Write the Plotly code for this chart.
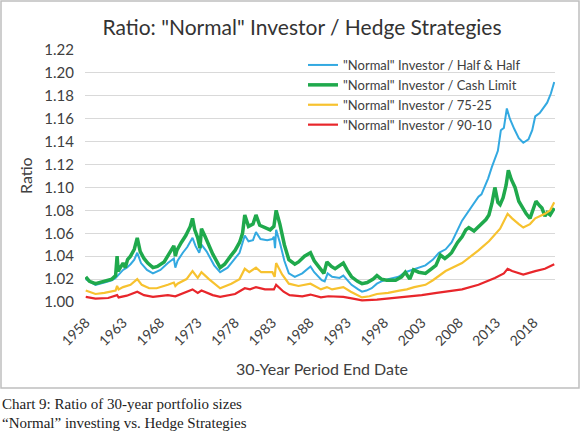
import plotly.graph_objects as go

# Ratio of 30-year portfolio sizes
half_years = [1958.0, 1959.3, 1960.5, 1961.5, 1962.0, 1962.4, 1963.0, 1963.5, 1964.0, 1964.5,
              1964.9, 1965.4, 1966.2, 1967.0, 1968.0, 1969.0, 1969.8, 1970.0, 1970.3, 1971.0,
              1971.6, 1972.3, 1972.7, 1973.2, 1973.5, 1974.2, 1975.2, 1976.0, 1977.0, 1978.0,
              1978.6, 1979.3, 1979.8, 1980.4, 1980.8, 1981.4, 1982.3, 1983.0, 1983.2, 1983.35,
              1983.5, 1984.0, 1984.6, 1985.2, 1986.0, 1987.0, 1988.1, 1988.6, 1989.6, 1990.0,
              1990.4, 1991.0, 1992.0, 1992.5, 1993.6, 1994.5, 1995.0, 1995.6, 1996.3, 1997.0,
              1997.6, 1998.5, 1999.9, 2000.8, 2001.7, 2002.5, 2003.5, 2004.5, 2005.3, 2006.2,
              2007.0, 2008.4, 2009.7, 2010.6, 2011.0, 2011.9, 2012.4, 2012.8, 2013.2, 2013.6,
              2014.0, 2014.4, 2014.8, 2015.4, 2016.0, 2016.6, 2017.3, 2017.8, 2018.2, 2018.8,
              2019.3, 2019.8, 2020.3, 2020.75]
half_vals = [1.020, 1.015, 1.017, 1.019, 1.021, 1.024, 1.028, 1.030, 1.033, 1.037,
             1.043, 1.034, 1.028, 1.025, 1.028, 1.034, 1.038, 1.030, 1.036, 1.043,
             1.048, 1.056, 1.049, 1.043, 1.050, 1.044, 1.032, 1.026, 1.030, 1.038,
             1.043, 1.058, 1.053, 1.054, 1.061, 1.055, 1.054, 1.055, 1.057, 1.047,
             1.063, 1.052, 1.036, 1.025, 1.022, 1.025, 1.031, 1.026, 1.019, 1.018,
             1.025, 1.022, 1.021, 1.023, 1.015, 1.011, 1.009, 1.010, 1.012, 1.016,
             1.018, 1.020, 1.022, 1.026, 1.028, 1.030, 1.032, 1.037, 1.043, 1.046,
             1.052, 1.071, 1.084, 1.092, 1.094, 1.108, 1.118, 1.126, 1.132, 1.150,
             1.152, 1.169, 1.160, 1.151, 1.143, 1.139, 1.142, 1.150, 1.162, 1.165,
             1.169, 1.174, 1.182, 1.192]

cash_years = [1958.0, 1958.5, 1959.3, 1960.5, 1961.5, 1962.0, 1962.2, 1962.35, 1963.0, 1963.3,
              1963.6, 1964.0, 1964.5, 1964.9, 1965.3, 1965.8, 1966.3, 1967.0, 1967.6, 1968.5,
              1969.0, 1969.5, 1969.8, 1970.0, 1970.2, 1970.8, 1971.4, 1972.0, 1972.3, 1972.6,
              1973.0, 1973.3, 1973.5, 1974.0, 1975.0, 1976.0, 1976.6, 1977.4, 1978.0, 1978.6,
              1979.0, 1979.3, 1979.8, 1980.4, 1980.8, 1981.3, 1982.0, 1982.7, 1983.2, 1983.5,
              1984.0, 1984.6, 1985.2, 1986.0, 1986.5, 1987.3, 1988.1, 1988.6, 1989.3, 1989.9,
              1990.3, 1990.9, 1991.4, 1992.0, 1992.5, 1993.0, 1993.6, 1994.4, 1995.0, 1995.7,
              1996.5, 1997.0, 1997.6, 1998.3, 1999.5, 2000.3, 2000.8, 2001.4, 2001.9, 2002.6,
              2003.5, 2004.3, 2004.9, 2005.5, 2006.1, 2006.5, 2007.0, 2007.8, 2008.4, 2008.9,
              2009.3, 2010.0, 2010.6, 2011.0, 2011.6, 2012.0, 2012.4, 2012.8, 2013.2, 2013.5,
              2013.9, 2014.3, 2014.6, 2015.0, 2015.5, 2016.0, 2016.5, 2017.0, 2017.5, 2017.9,
              2018.3, 2018.8, 2019.1, 2019.5, 2019.8, 2020.2, 2020.75]
cash_vals = [1.022, 1.018, 1.016, 1.018, 1.020, 1.023, 1.040, 1.027, 1.034, 1.030,
             1.037, 1.040, 1.046, 1.056, 1.044, 1.038, 1.034, 1.030, 1.031, 1.035,
             1.040, 1.046, 1.049, 1.040, 1.045, 1.052, 1.058, 1.066, 1.073, 1.063,
             1.056, 1.047, 1.064, 1.057, 1.042, 1.030, 1.033, 1.040, 1.045, 1.052,
             1.060, 1.076, 1.066, 1.068, 1.076, 1.067, 1.065, 1.063, 1.066, 1.080,
             1.068, 1.050, 1.037, 1.033, 1.035, 1.040, 1.043, 1.036, 1.030, 1.025,
             1.035, 1.031, 1.029, 1.032, 1.034, 1.028, 1.022, 1.018, 1.016, 1.017,
             1.020, 1.023, 1.020, 1.019, 1.019, 1.022, 1.026, 1.020, 1.028, 1.026,
             1.025, 1.029, 1.032, 1.041, 1.038, 1.040, 1.043, 1.052, 1.057, 1.063,
             1.065, 1.062, 1.066, 1.068, 1.072, 1.076, 1.086, 1.100, 1.087, 1.085,
             1.091, 1.102, 1.115, 1.107, 1.100, 1.088, 1.082, 1.077, 1.073, 1.080,
             1.088, 1.084, 1.082, 1.075, 1.078, 1.076, 1.082]

s75_years = [1958.0, 1959.3, 1960.5, 1962.0, 1962.2, 1962.4, 1963.0, 1964.0, 1964.9, 1965.5,
             1966.5, 1967.5, 1969.0, 1969.8, 1970.0, 1970.3, 1971.5, 1972.3, 1973.0, 1973.5,
             1974.5, 1976.0, 1977.5, 1978.6, 1979.3, 1979.9, 1980.8, 1981.5, 1983.0, 1983.3,
             1983.5, 1984.3, 1985.2, 1986.5, 1988.1, 1989.5, 1990.3, 1991.0, 1992.5, 1993.5,
             1995.0, 1996.0, 1997.0, 1998.5, 2000.0, 2001.0, 2002.0, 2003.5, 2004.5, 2006.2,
             2008.4, 2010.6, 2012.0, 2012.8, 2013.5, 2014.5, 2015.1, 2016.0, 2016.6, 2017.5,
             2018.2, 2019.5, 2020.2, 2020.75]
s75_vals = [1.010, 1.007, 1.008, 1.010, 1.014, 1.011, 1.013, 1.015, 1.020, 1.015,
            1.012, 1.012, 1.015, 1.017, 1.014, 1.016, 1.020, 1.027, 1.021, 1.026,
            1.020, 1.012, 1.016, 1.020, 1.029, 1.026, 1.030, 1.026, 1.026, 1.022,
            1.034, 1.024, 1.016, 1.014, 1.016, 1.011, 1.013, 1.011, 1.013, 1.009,
            1.004, 1.005, 1.007, 1.008, 1.010, 1.011, 1.013, 1.015, 1.019, 1.027,
            1.034, 1.045, 1.053, 1.059, 1.064, 1.077, 1.073, 1.068, 1.065, 1.068,
            1.073, 1.077, 1.080, 1.087]

s90_years = [1958.0, 1959.3, 1961.0, 1962.2, 1962.4, 1963.5, 1964.9, 1965.8, 1967.0, 1969.0,
             1970.0, 1972.3, 1973.0, 1973.5, 1975.0, 1976.0, 1978.0, 1979.3, 1980.0, 1980.8,
             1982.0, 1983.2, 1983.5, 1984.5, 1985.3, 1987.0, 1988.1, 1989.5, 1990.5, 1992.5,
             1993.8, 1995.0, 1997.0, 2000.0, 2003.0, 2005.0, 2008.4, 2010.6, 2012.8, 2014.0,
             2014.5, 2015.1, 2016.6, 2018.2, 2019.5, 2020.75]
s90_vals = [1.0045, 1.003, 1.0035, 1.006, 1.004, 1.0055, 1.009, 1.006, 1.0045, 1.006,
            1.005, 1.011, 1.008, 1.010, 1.006, 1.0045, 1.007, 1.012, 1.011, 1.013,
            1.011, 1.011, 1.015, 1.009, 1.006, 1.005, 1.0065, 1.004, 1.005, 1.0045,
            1.003, 1.0015, 1.002, 1.004, 1.006, 1.008, 1.011, 1.015, 1.021, 1.025,
            1.029, 1.027, 1.024, 1.027, 1.029, 1.033]

series_names = ['"Normal" Investor / Half & Half', '"Normal" Investor / Cash Limit',
                '"Normal" Investor / 75-25', '"Normal" Investor / 90-10']
tick_years = [1958, 1963, 1968, 1973, 1978, 1983, 1988, 1993, 1998, 2003, 2008, 2013, 2018]
y_ticks = [1.00, 1.02, 1.04, 1.06, 1.08, 1.10, 1.12, 1.14, 1.16, 1.18, 1.20, 1.22]

FONT = "Lato"
W, H = 584, 436

fig = go.Figure()
fig.add_trace(go.Scatter(x=half_years, y=half_vals, name=series_names[0], mode="lines",
                         line=dict(color="#33a9e1", width=2)))
fig.add_trace(go.Scatter(x=cash_years, y=cash_vals, name=series_names[1], mode="lines",
                         line=dict(color="#1fa94c", width=3.5)))
fig.add_trace(go.Scatter(x=s75_years, y=s75_vals, name=series_names[2], mode="lines",
                         line=dict(color="#f7c22f", width=2.2)))
fig.add_trace(go.Scatter(x=s90_years, y=s90_vals, name=series_names[3], mode="lines",
                         line=dict(color="#e8262b", width=2.2)))

# plot area in pixels: x 85..555, y 50..302
# the y axis is anchored a little left of the plot so its labels sit further out
fig.update_layout(
    width=W, height=H,
    margin=dict(l=0, r=0, t=0, b=0),
    paper_bgcolor="white", plot_bgcolor="white",
    font=dict(family=FONT, color="#404040"),
    title=dict(text='Ratio: "Normal" Investor / Hedge Strategies', x=302 / W, y=1 - 28 / H,
               xanchor="center", yanchor="middle", font=dict(size=21, color="#333333")),
    xaxis=dict(domain=[85 / W, 555 / W], range=[1957.9, 2020.85], tickvals=tick_years,
               tickangle=-45, tickfont=dict(size=14, color="#404040"), showgrid=False,
               zeroline=False, showline=False, ticks="outside", ticklen=6,
               tickcolor="rgba(0,0,0,0)", automargin=False),
    yaxis=dict(domain=[(H - 302) / H, (H - 50) / H], range=[1.0, 1.22], tickvals=y_ticks,
               tickformat=".2f", tickfont=dict(size=15, color="#404040"), gridcolor="#d9d9d9",
               gridwidth=1, zeroline=False, showline=False, ticks="",
               anchor="free", position=74 / W, automargin=False),
    showlegend=True,
    legend=dict(x=303 / W, y=1 - 50 / H, xanchor="left", yanchor="top",
                bgcolor="rgba(0,0,0,0)", font=dict(size=13, color="#404040"),
                tracegroupgap=0, itemwidth=30),
)

fig.add_annotation(text="Ratio", textangle=-90, x=25 / W, y=(H - 176) / H, xref="paper",
                   yref="paper", xanchor="center", yanchor="middle", showarrow=False,
                   font=dict(size=16, color="#404040"))
fig.add_annotation(text="30-Year Period End Date", x=322 / W, y=(H - 368) / H, xref="paper",
                   yref="paper", xanchor="center", yanchor="middle", showarrow=False,
                   font=dict(size=16, color="#404040"))

# caption under the chart box
fig.add_annotation(text="Chart 9: Ratio of 30-year portfolio sizes", x=0.0, y=(H - 404) / H,
                   xref="paper", yref="paper", xanchor="left", yanchor="middle", showarrow=False,
                   font=dict(family="Liberation Serif", size=15, color="#222222"))
fig.add_annotation(text="\u201cNormal\u201d investing vs. Hedge Strategies", x=0.0, y=(H - 423) / H,
                   xref="paper", yref="paper", xanchor="left", yanchor="middle", showarrow=False,
                   font=dict(family="Liberation Serif", size=15, color="#222222"))

# chart border
fig.add_shape(type="rect", xref="paper", yref="paper", x0=1 / W, x1=579 / W,
              y0=(H - 388) / H, y1=(H - 1) / H, line=dict(color="#bfbfbf", width=1.5))

# the page body has a default 8px margin; drop it so the figure sits at 0,0
fig.write_html("out.html", config={"displayModeBar": False},
               post_script="document.body.style.margin='0';")
